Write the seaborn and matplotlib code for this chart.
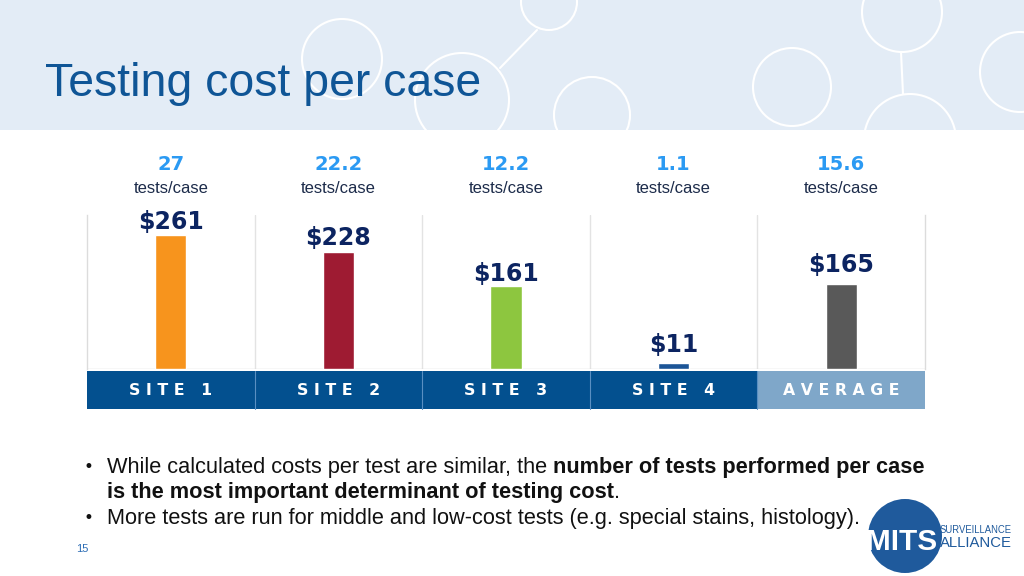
import matplotlib
matplotlib.use('Agg')
import matplotlib.pyplot as plt
import matplotlib.transforms as mtransforms
from matplotlib.patches import Rectangle, Circle
from matplotlib import font_manager as fm
import seaborn as sns
import pandas as pd

# ---------------- data ----------------
categories = ["SITE 1", "SITE 2", "SITE 3", "SITE 4", "AVERAGE"]
cost_per_case = [261, 228, 161, 11, 165]
cost_labels = ["$261", "$228", "$161", "$11", "$165"]
tests_labels = ["27", "22.2", "12.2", "1.1", "15.6"]
bar_colors = ["#f7941d", "#9e1b32", "#8dc63f", "#1c5597", "#595959"]
band_colors = ["#03508f", "#03508f", "#03508f", "#03508f", "#7fa7c9"]
label_gap_pt = [4.5, 5, 4, 8, 8.5]

title = "Testing cost per case"
bullet1 = [("While calculated costs per test are similar, the ", "normal"),
           ("number of tests performed per case", "bold")]
bullet2 = [("is the most important determinant of testing cost", "bold"),
           (".", "normal")]
bullet3 = [("More tests are run for middle and low-cost tests (e.g. special stains, histology).", "normal")]

# ---------------- style ----------------
sns.set_theme(style="white")
plt.rcParams['font.family'] = ['DejaVu Sans']
_names = {f.name for f in fm.fontManager.ttflist}
if 'Liberation Sans Narrow' in _names:
    NARROW = ['Liberation Sans Narrow', 'DejaVu Sans']
else:
    NARROW = ['Liberation Sans', 'DejaVu Sans']

fig = plt.figure(figsize=(10.24, 5.76), dpi=100)
fig.patch.set_facecolor('white')

# background overlay in pixel coordinates
bg = fig.add_axes([0, 0, 1, 1], zorder=0)
bg.set_xlim(0, 1024)
bg.set_ylim(576, 0)
bg.axis('off')

header = Rectangle((0, 0), 1024, 130, facecolor='#e3ecf6', edgecolor='none')
bg.add_patch(header)
deco_circles = [(342, 59, 40), (549, 2, 28), (462, 100, 47), (592, 115, 38),
                (792, 87, 39), (902, 12, 40), (910, 140, 46), (1020, 72, 40)]
for cx, cy, r in deco_circles:
    c = Circle((cx, cy), r, fill=False, edgecolor='white', lw=1.5)
    bg.add_patch(c)
    c.set_clip_path(header)
for (x0, y0, x1, y1) in [(537, 30, 500, 68), (901, 52, 903, 94)]:
    ln, = bg.plot([x0, x1], [y0, y1], color='white', lw=1.5)
    ln.set_clip_path(header)

fig.canvas.draw()
renderer = fig.canvas.get_renderer()


def fit_text(x, y, s, target_w, fs, **kw):
    t = bg.text(x, y, s, fontsize=fs, **kw)
    w = t.get_window_extent(renderer=renderer).width
    t.set_fontsize(fs * target_w / w)
    return t


fit_text(45, 96, title, 436, 34, color='#0f5596', family=NARROW,
         va='baseline', ha='left')

# ---------------- chart ----------------
ax = fig.add_axes([87 / 1024, (576 - 369) / 576, 838 / 1024, 154 / 576], zorder=2)
ax.patch.set_alpha(0)
df = pd.DataFrame({"site": categories, "cost": cost_per_case})
sns.barplot(data=df, x="site", y="cost", hue="site", palette=bar_colors,
            width=0.185, saturation=1, legend=False, ax=ax)
ax.set_ylim(0, 300)
ax.set_xlim(-0.5, len(categories) - 0.5)
ax.set_xticks([])
ax.set_yticks([])
ax.set_xlabel('')
ax.set_ylabel('')
for s in ['top', 'bottom']:
    ax.spines[s].set_visible(False)
for s in ['left', 'right']:
    ax.spines[s].set_color('#dcdcdc')
    ax.spines[s].set_linewidth(1)
for i in range(len(categories) - 1):
    ax.axvline(i + 0.5, color='#e3e3e3', lw=1, zorder=0)
ax.axhline(0, color='#d9d9d9', lw=1, zorder=0)

for i, (v, lab) in enumerate(zip(cost_per_case, cost_labels)):
    ax.annotate(lab, (i, v), xytext=(0, label_gap_pt[i]), textcoords='offset points',
                ha='center', va='baseline', fontsize=17, fontweight='bold',
                color='#0c2461', annotation_clip=False)

blend = mtransforms.blended_transform_factory(ax.transData, ax.transAxes)
for i, t in enumerate(tests_labels):
    ax.text(i, 1.325, t, transform=blend, ha='center', va='center', fontsize=14,
            fontweight='bold', color='#2b9af3', clip_on=False)
    ax.text(i, 1.175, "tests/case", transform=blend, ha='center', va='center',
            fontsize=12, color='#1c2b4a', family=['Liberation Sans', 'DejaVu Sans'],
            clip_on=False)

for i, (cat, col) in enumerate(zip(categories, band_colors)):
    r = Rectangle((i - 0.5, -0.26), 1, 0.247, transform=blend, facecolor=col,
                  edgecolor='none', clip_on=False)
    ax.add_patch(r)
    ax.text(i, -0.137, ' '.join(cat), transform=blend, ha='center', va='center',
            fontsize=11.3, fontweight='bold', color='white', clip_on=False)
for i in range(len(categories) - 1):
    ax.plot([i + 0.5, i + 0.5], [-0.26, -0.013], transform=blend,
            color='#5a8fc2', lw=0.8, clip_on=False)

# ---------------- bullets ----------------


def line_width(parts, fs):
    total = 0
    for txt, w in parts:
        t = bg.text(0, 0, txt, fontsize=fs, fontweight=w, family=NARROW)
        total += t.get_window_extent(renderer=renderer).width
        t.remove()
    return total


def rich_line(x, y, parts, fs):
    for txt, w in parts:
        t = bg.text(x, y, txt, fontsize=fs, fontweight=w, family=NARROW,
                    color='#111111', va='baseline', ha='left')
        x += t.get_window_extent(renderer=renderer).width


bfs = 15 * 821 / line_width(bullet1, 15)
bg.text(84, 472, "•", fontsize=12, color='#111111', va='baseline')
rich_line(107, 473, bullet1, bfs)
rich_line(107, 498, bullet2, bfs)
bg.text(84, 523, "•", fontsize=12, color='#111111', va='baseline')
rich_line(107, 524, bullet3, bfs)

bg.text(76, 552, "15", fontsize=8, color='#2d6db5', family=NARROW, va='baseline')

# ---------------- logo ----------------
bg.add_patch(Circle((905, 536), 37, facecolor='#1f5a9c', edgecolor='none'))
fit_text(866, 550, "MITS", 71, 22, fontweight='bold', color='white',
         family=NARROW, va='baseline', ha='left')
fit_text(940, 533, "SURVEILLANCE", 72, 7, color='#1f5a9c', family=NARROW,
         va='baseline', ha='left')
fit_text(940, 547, "ALLIANCE", 72, 10, color='#1f5a9c', family=NARROW,
         va='baseline', ha='left')

fig.savefig('out.png', dpi=100)
